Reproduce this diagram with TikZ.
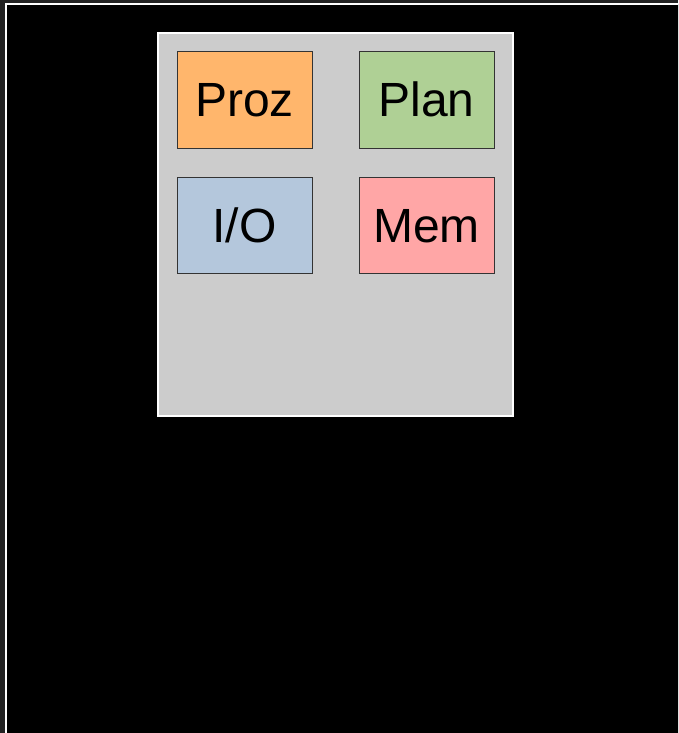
\documentclass[tikz,border=0pt]{standalone}
\usepackage{fontspec}
\setmainfont{Liberation Sans}
\definecolor{canvas}{HTML}{222222}
\definecolor{panel}{HTML}{CCCCCC}
\definecolor{edge}{HTML}{333333}
\definecolor{cproz}{HTML}{FFB66C}
\definecolor{cplan}{HTML}{AFD095}
\definecolor{cio}{HTML}{B4C7DC}
\definecolor{cmem}{HTML}{FFA6A6}
\tikzset{
  unit/.style={draw=edge, line width=1pt, minimum width=135pt, minimum height=96pt,
    inner sep=0pt, text height=34pt, text depth=0pt,
    font=\fontsize{48}{58}\selectfont},
  panelbox/.style={draw=white, line width=2pt, fill=panel, inner sep=0pt,
    minimum width=355pt, minimum height=383pt}
}
\begin{document}
\begin{tikzpicture}[x=1pt,y=-1pt]
  \useasboundingbox (0,0) rectangle (678,733);
  \fill[canvas] (0,0) rectangle (678,733);
  \begin{scope}
    \clip (0,0) rectangle (678,733);
    \draw[white, line width=2pt, fill=black] (6,3.8) rectangle (700,760);
  \end{scope}
  % grey panel holding the four units
  \node[panelbox] (panel) at (335.5,224.5) {};
  \node[unit, fill=cproz] (proz) at (244.5,100) {Proz};
  \node[unit, fill=cplan] (plan) at (426.5,100) {Plan};
  \node[unit, fill=cio]   (io)   at (244.5,225) {I/O};
  \node[unit, fill=cmem]  (mem)  at (426.5,225) {Mem};
\end{tikzpicture}
\end{document}
